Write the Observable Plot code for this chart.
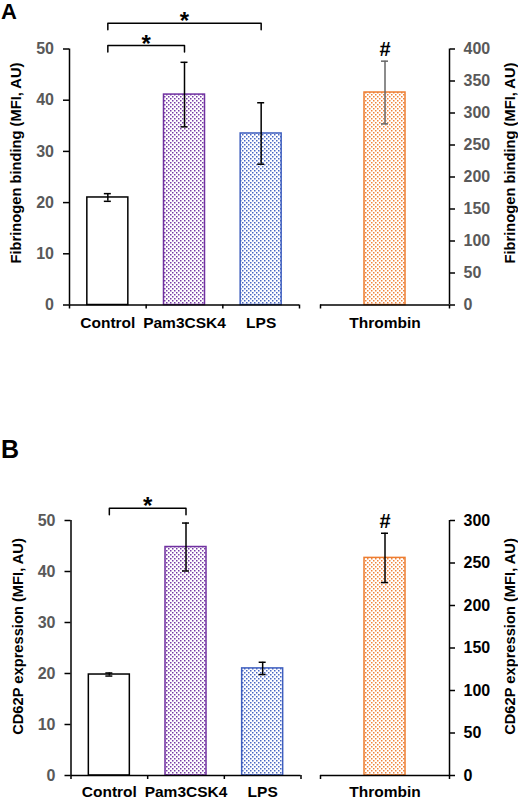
<!DOCTYPE html>
<html>
<head>
<meta charset="utf-8">
<script src="https://cdn.jsdelivr.net/npm/d3@7"></script>
<script src="https://cdn.jsdelivr.net/npm/@observablehq/plot@0.6"></script>
<style>
  body { margin: 0; background: #fff; }
  #root { position: relative; width: 518px; height: 800px; overflow: hidden; font-family: "Liberation Sans", Arial, sans-serif; }
  .part { position: absolute; }
  .letter { position: absolute; left: 1px; font-weight: bold; line-height: 1; color: #000; }
</style>
</head>
<body>
<svg width="0" height="0" style="position:absolute">
  <defs id="patdefs"></defs>
</svg>
<div id="root">
  <div class="letter" style="top:1px;font-size:22px;">A</div>
  <div class="letter" style="top:437px;font-size:25px;">B</div>
</div>
<script>
// ---------- data ----------
const categories = ["Control", "Pam3CSK4", "LPS"];
const thrombinCategory = ["Thrombin"];

const fibrinogenMean = [21.0, 41.1, 33.5];
const fibrinogenErr = [0.75, 6.3, 6.0];
const fibrinogenThrombinMean = [332];
const fibrinogenThrombinErr = [49];

const cd62pMean = [19.8, 44.8, 21.0];
const cd62pErr = [0.3, 4.7, 1.2];
const cd62pThrombinMean = [256];
const cd62pThrombinErr = [29];

const fibrinogenLeftTicks = [0, 10, 20, 30, 40, 50];
const fibrinogenRightTicks = [0, 50, 100, 150, 200, 250, 300, 350, 400];
const cd62pLeftTicks = [0, 10, 20, 30, 40, 50];
const cd62pRightTicks = [0, 50, 100, 150, 200, 250, 300];

const fibrinogenBrackets = [
  {from: "Control", to: "Pam3CSK4", mark: "*"},
  {from: "Control", to: "LPS", mark: "*"}
];
const cd62pBrackets = [
  {from: "Control", to: "Pam3CSK4", mark: "*"}
];
const thrombinMark = "#";

const fibrinogenTitle = "Fibrinogen binding (MFI, AU)";
const cd62pTitle = "CD62P expression (MFI, AU)";

// ---------- styles ----------
const FONT = '"Liberation Sans", Arial, sans-serif';
const categoryStroke = ["#000000", "#7030A0", "#3F5FBF"];
const thrombinStroke = "#ED7D31";
const patternColors = {purple: "#7030A0", blue: "#3F5FBF", orange: "#ED7D31"};

// dotted fill patterns
const defs = document.getElementById("patdefs");
for (const [name, col] of Object.entries(patternColors)) {
  const p = document.createElementNS("http://www.w3.org/2000/svg", "pattern");
  p.setAttribute("id", "dots-" + name);
  p.setAttribute("width", "4");
  p.setAttribute("height", "4");
  p.setAttribute("patternUnits", "userSpaceOnUse");
  p.innerHTML = `<rect width="4" height="4" fill="#fff"/>` +
    `<rect x="0" y="0" width="1.5" height="1.5" fill="${col}" fill-opacity="0.95"/>` +
    `<rect x="2" y="2" width="1.5" height="1.5" fill="${col}" fill-opacity="0.95"/>`;
  defs.appendChild(p);
}
const categoryFill = ["#ffffff", "url(#dots-purple)", "url(#dots-blue)"];
const thrombinFill = "url(#dots-orange)";

const BAR_PX = 41, CAP_PX = 3.5, DROP_PX = 6.5;

function leftPanel(cfg) {
  const n = categories.length;
  const step = cfg.frameW / n;
  const hw = BAR_PX / 2 / step, cap = CAP_PX / step;
  const upp = cfg.yMax / cfg.frameH;
  const rows = categories.map((c, i) => ({c, x: i + 0.5, v: cfg.mean[i], e: cfg.err[i], fill: categoryFill[i], stroke: categoryStroke[i]}));
  const cx = c => categories.indexOf(c) + 0.5;
  const brackets = cfg.brackets.map((b, j) => ({...b, top: cfg.yMax + cfg.bracketPx[j] * upp}));
  const bracketPts = brackets.flatMap((b, j) => {
    const low = b.top - DROP_PX * upp;
    return [
      {id: j, x: cx(b.from), y: low}, {id: j, x: cx(b.from), y: b.top},
      {id: j, x: cx(b.to), y: b.top}, {id: j, x: cx(b.to), y: low}
    ];
  });
  const height = cfg.marginTop + cfg.frameH + cfg.marginBottom;
  const width = cfg.marginLeft + cfg.frameW + cfg.marginRight;
  return Plot.plot({
    width, height,
    marginLeft: cfg.marginLeft, marginRight: cfg.marginRight,
    marginTop: cfg.marginTop, marginBottom: cfg.marginBottom,
    x: {domain: [0, n], label: null},
    y: {domain: [0, cfg.yMax], label: null},
    color: {type: "identity"},
    style: {fontFamily: FONT, background: "transparent", overflow: "visible"},
    marks: [
      Plot.rectY(rows, {x1: d => d.x - hw, x2: d => d.x + hw, y1: 0, y2: "v", fill: "fill", stroke: "stroke", strokeWidth: 1.5}),
      Plot.ruleX(rows, {x: "x", y1: d => d.v - d.e, y2: d => d.v + d.e, stroke: "#000", strokeWidth: 1.5}),
      Plot.ruleY(rows, {x1: d => d.x - cap, x2: d => d.x + cap, y: d => d.v + d.e, stroke: "#000", strokeWidth: 1.5}),
      Plot.ruleY(rows, {x1: d => d.x - cap, x2: d => d.x + cap, y: d => d.v - d.e, stroke: "#000", strokeWidth: 1.5}),
      Plot.ruleX([0], {stroke: "#000", strokeWidth: 1.5}),
      Plot.ruleY([0], {stroke: "#000", strokeWidth: 1.5}),
      Plot.axisY({ticks: cfg.ticks, tickSize: 6, tickFormat: () => "", strokeWidth: 1.5}),
      Plot.axisY({ticks: cfg.ticks, tickSize: 0, tickPadding: 15.5, color: "#595959", fontSize: 16, fontWeight: "bold", fontFamily: FONT}),
      Plot.axisX({ticks: d3.range(n + 1), tickSize: 4, tickFormat: () => "", strokeWidth: 1.5}),
      Plot.text(rows, {x: "x", text: "c", frameAnchor: "bottom", dy: cfg.labelDy, lineAnchor: "middle", fontSize: 15.5, fontWeight: "bold", fill: "#000", fontFamily: FONT}),
      Plot.text([cfg.title], {frameAnchor: "left", textAnchor: "middle", dx: -53, dy: cfg.titleDy, rotate: -90, fontSize: 14.7, fontWeight: "bold", fill: "#000", fontFamily: FONT}),
      Plot.line(bracketPts, {x: "x", y: "y", z: "id", stroke: "#000", strokeWidth: 1.5, curve: "linear"}),
      Plot.text(brackets, {x: b => (cx(b.from) + cx(b.to)) / 2, y: "top", text: "mark", lineAnchor: "bottom", dy: 6, fontSize: 24, fontWeight: "bold", fill: "#000", fontFamily: FONT})
    ]
  });
}

function rightPanel(cfg) {
  const step = cfg.leftStep;
  const xMax = cfg.frameW / step;
  const hw = BAR_PX / 2 / step, cap = CAP_PX / step;
  const rows = thrombinCategory.map((c, i) => ({c, x: xMax / 2, v: cfg.mean[i], e: cfg.err[i]}));
  const height = cfg.marginTop + cfg.frameH + cfg.marginBottom;
  const width = cfg.marginLeft + cfg.frameW + cfg.marginRight;
  return Plot.plot({
    width, height,
    marginLeft: cfg.marginLeft, marginRight: cfg.marginRight,
    marginTop: cfg.marginTop, marginBottom: cfg.marginBottom,
    x: {domain: [0, xMax], label: null},
    y: {domain: [0, cfg.yMax], label: null},
    style: {fontFamily: FONT, background: "transparent", overflow: "visible"},
    marks: [
      Plot.rectY(rows, {x1: d => d.x - hw, x2: d => d.x + hw, y1: 0, y2: "v", fill: thrombinFill, stroke: thrombinStroke, strokeWidth: 1.5}),
      Plot.ruleX(rows, {x: "x", y1: d => d.v - d.e, y2: d => d.v + d.e, stroke: cfg.errColor, strokeWidth: 1.5}),
      Plot.ruleY(rows, {x1: d => d.x - cap, x2: d => d.x + cap, y: d => d.v + d.e, stroke: cfg.errColor, strokeWidth: 1.5}),
      Plot.ruleY(rows, {x1: d => d.x - cap, x2: d => d.x + cap, y: d => d.v - d.e, stroke: cfg.errColor, strokeWidth: 1.5}),
      Plot.ruleX([xMax], {stroke: "#000", strokeWidth: 1.5}),
      Plot.ruleY([0], {stroke: "#000", strokeWidth: 1.5}),
      Plot.axisY({anchor: "right", ticks: cfg.ticks, tickSize: 5, tickFormat: () => "", strokeWidth: 1.5}),
      Plot.axisY({anchor: "right", ticks: cfg.ticks, tickSize: 0, tickPadding: 14, color: cfg.tickColor, fontSize: 16, fontWeight: "bold", fontFamily: FONT}),
      Plot.axisX({ticks: [0, xMax], tickSize: 4, tickFormat: () => "", strokeWidth: 1.5}),
      Plot.text(rows, {x: "x", text: "c", frameAnchor: "bottom", dy: cfg.labelDy, lineAnchor: "middle", fontSize: 15.5, fontWeight: "bold", fill: "#000", fontFamily: FONT}),
      Plot.text(rows, {x: "x", y: d => d.v + d.e, text: () => thrombinMark, lineAnchor: "bottom", dy: cfg.hashDy, fontSize: 20, fontWeight: "bold", fill: "#000", fontFamily: FONT}),
      Plot.text([cfg.title], {frameAnchor: "right", textAnchor: "middle", dx: 61, dy: cfg.titleDy, rotate: -90, fontSize: 14.7, fontWeight: "bold", fill: "#000", fontFamily: FONT})
    ]
  });
}

function place(el, left, top) {
  const wrap = document.createElement("div");
  wrap.className = "part";
  wrap.style.left = left + "px";
  wrap.style.top = top + "px";
  wrap.appendChild(el);
  document.getElementById("root").appendChild(wrap);
}

// Panel A
place(leftPanel({
  mean: fibrinogenMean, err: fibrinogenErr, ticks: fibrinogenLeftTicks, yMax: 50,
  title: fibrinogenTitle, titleDy: -14, brackets: fibrinogenBrackets, bracketPx: [3.5, 25.8], labelDy: 18.5,
  marginLeft: 69, marginRight: 6, marginTop: 48.5, marginBottom: 40.5, frameW: 230, frameH: 256
}), 0, 0);
place(rightPanel({
  mean: fibrinogenThrombinMean, err: fibrinogenThrombinErr, ticks: fibrinogenRightTicks, yMax: 400,
  title: fibrinogenTitle, titleDy: -14, errColor: "#666", tickColor: "#595959", hashDy: -5.5, labelDy: 18.5,
  leftStep: 230 / 3, marginLeft: 15, marginRight: 69, marginTop: 48.5, marginBottom: 40.5, frameW: 129, frameH: 256
}), 305, 0);

// Panel B
place(leftPanel({
  mean: cd62pMean, err: cd62pErr, ticks: cd62pLeftTicks, yMax: 50,
  title: cd62pTitle, titleDy: -11.5, brackets: cd62pBrackets, bracketPx: [12.3], labelDy: 16.5,
  marginLeft: 70.5, marginRight: 4.5, marginTop: 120, marginBottom: 25, frameW: 230, frameH: 255
}), 0, 400);
place(rightPanel({
  mean: cd62pThrombinMean, err: cd62pThrombinErr, ticks: cd62pRightTicks, yMax: 300,
  title: cd62pTitle, titleDy: -11.5, errColor: "#000", tickColor: "#000", hashDy: -5.3, labelDy: 16.5,
  leftStep: 230 / 3, marginLeft: 15, marginRight: 69, marginTop: 120, marginBottom: 25, frameW: 129, frameH: 255
}), 305, 400);
</script>
</body>
</html>
